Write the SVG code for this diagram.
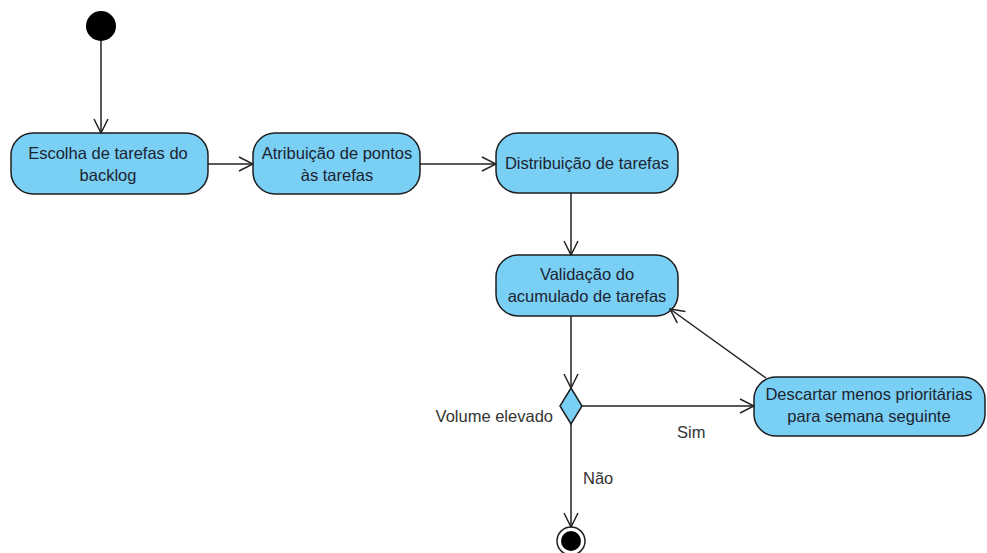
<svg xmlns="http://www.w3.org/2000/svg" width="987" height="553" viewBox="0 0 987 553">
  <style>
    .act { fill: #7acff5; stroke: #1e1e1e; stroke-width: 1.5; }
    .lbl { font-family: "Liberation Sans", Arial, sans-serif; font-size: 16.5px; fill: #1c2430; text-anchor: middle; }
    .note { font-family: "Liberation Sans", Arial, sans-serif; font-size: 16.5px; fill: #333333; }
    .edge { fill: none; stroke: #222; stroke-width: 1.5; }
  </style>
  <defs>
    <marker id="open" viewBox="0 0 16 16" refX="15" refY="8" markerWidth="16" markerHeight="16" markerUnits="userSpaceOnUse" orient="auto">
      <path d="M1,1 L15,8 L1,15" fill="none" stroke="#222" stroke-width="1.5"/>
    </marker>
  </defs>
  <rect width="987" height="553" fill="#ffffff"/>

  <g id="start">
    <circle cx="101" cy="26" r="15" fill="#000"/>
  </g>

  <g id="escolha">
    <rect class="act" x="11" y="133" width="197" height="61" rx="22"/>
    <text class="lbl" x="108" y="159">Escolha de tarefas do</text>
    <text class="lbl" x="108" y="181">backlog</text>
  </g>

  <g id="atribuicao">
    <rect class="act" x="253" y="133" width="167" height="61" rx="22"/>
    <text class="lbl" x="337" y="159">Atribuição de pontos</text>
    <text class="lbl" x="337" y="181">às tarefas</text>
  </g>

  <g id="distribuicao">
    <rect class="act" x="496" y="133" width="182" height="60" rx="22"/>
    <text class="lbl" x="587" y="169">Distribuição de tarefas</text>
  </g>

  <g id="validacao">
    <rect class="act" x="496" y="255" width="182" height="61" rx="22"/>
    <text class="lbl" x="587" y="280">Validação do</text>
    <text class="lbl" x="587" y="302">acumulado de tarefas</text>
  </g>

  <g id="decisao">
    <polygon class="act" points="571,388 582,406 571,424 560,406"/>
    <text class="note" x="553" y="422" text-anchor="end">Volume elevado</text>
  </g>

  <g id="descartar">
    <rect class="act" x="754" y="377" width="231" height="59" rx="22"/>
    <text class="lbl" x="869" y="400">Descartar menos prioritárias</text>
    <text class="lbl" x="869" y="422">para semana seguinte</text>
  </g>

  <g id="fim">
    <circle cx="571" cy="541" r="14" fill="#fff" stroke="#222" stroke-width="1.5"/>
    <circle cx="571" cy="541" r="10" fill="#000"/>
  </g>

  <g id="connectors">
    <line class="edge" x1="101" y1="41" x2="101" y2="133" marker-end="url(#open)"/>
    <line class="edge" x1="208" y1="164" x2="253" y2="164" marker-end="url(#open)"/>
    <line class="edge" x1="420" y1="164" x2="496" y2="164" marker-end="url(#open)"/>
    <line class="edge" x1="571" y1="193" x2="571" y2="255" marker-end="url(#open)"/>
    <line class="edge" x1="571" y1="316" x2="571" y2="388" marker-end="url(#open)"/>
    <line class="edge" x1="582" y1="406" x2="754" y2="406" marker-end="url(#open)"/>
    <line class="edge" x1="766" y1="378" x2="670" y2="309" marker-end="url(#open)"/>
    <line class="edge" x1="571" y1="424" x2="571" y2="527" marker-end="url(#open)"/>
    <text class="note" x="677" y="438">Sim</text>
    <text class="note" x="583" y="484">Não</text>
  </g>
</svg>
